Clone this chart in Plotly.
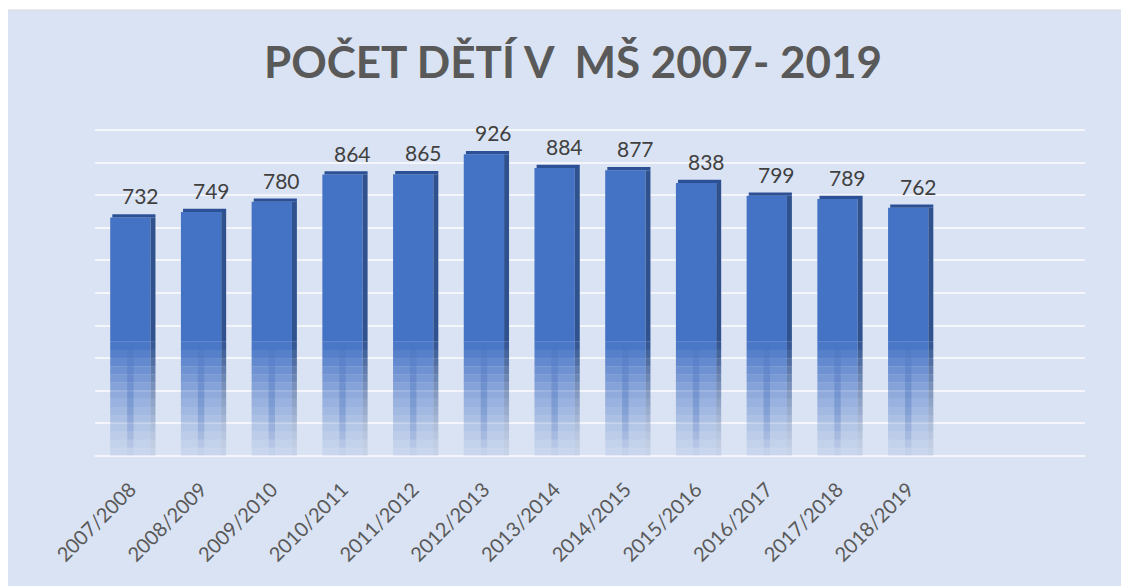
import plotly.graph_objects as go

# ---- data ----
categories = ["2007/2008", "2008/2009", "2009/2010", "2010/2011", "2011/2012", "2012/2013",
              "2013/2014", "2014/2015", "2015/2016", "2016/2017", "2017/2018", "2018/2019"]
values = [732, 749, 780, 864, 865, 926, 884, 877, 838, 799, 789, 762]
title_text = "POČET DĚTÍ V\u00a0 MŠ 2007- 2019"

# ---- style ----
FRONT = (68, 114, 196)
SIDE = (47, 82, 143)
TOP = (44, 80, 150)
STREAK = (52, 96, 180)
BG = "#dae3f3"
TXT = "#595959"
FADE_TOP = 350
N_SLICES = 14
Y_MIN, Y_MAX = -10, 1010

# page body has an 8px margin -> figure placed at (8, 8)
W, H = 1121, 578
L, R, T, B = 87, 44, 119, 127
PW, PH = W - L - R, H - T - B

fig = go.Figure()

def rgba(c, a):
    return f"rgba({c[0]},{c[1]},{c[2]},{a:.3f})"

step = FADE_TOP / N_SLICES
for face, color, offset, width in [("front", FRONT, -0.285, 0.57), ("side", SIDE, 0.285, 0.07)]:
    for k in range(N_SLICES):
        base_k = k * step
        t = (k + 0.5) / N_SLICES
        alpha = 0.10 + 0.90 * t ** 1.3
        fig.add_trace(go.Bar(
            x=categories,
            y=[max(0, min(step, v - base_k)) for v in values],
            base=[base_k] * len(values),
            marker=dict(color=rgba(color, alpha), line=dict(width=0)),
            offset=offset, width=width, hoverinfo="skip", showlegend=False,
        ))
        if face == "front":
            fig.add_trace(go.Bar(
                x=categories,
                y=[max(0, min(step, v - base_k)) for v in values],
                base=[base_k] * len(values),
                marker=dict(color=rgba(STREAK, 0.28 * 4 * t * (1 - t)), line=dict(width=0)),
                offset=-0.045, width=0.09, hoverinfo="skip", showlegend=False,
            ))
    fig.add_trace(go.Bar(
        x=categories,
        y=[v - FADE_TOP for v in values],
        base=[FADE_TOP] * len(values),
        marker=dict(color=rgba(color, 1), line=dict(width=0)),
        offset=offset, width=width, hoverinfo="skip", showlegend=False,
    ))

# top face
fig.add_trace(go.Bar(
    x=categories, y=[10] * len(values), base=values,
    marker=dict(color=rgba(TOP, 1), line=dict(width=0)),
    offset=-0.255, width=0.61, hoverinfo="skip", showlegend=False,
))

# value labels
for c, v in zip(categories, values):
    fig.add_annotation(x=c, y=v, text=str(v), showarrow=False, yanchor="bottom",
                       xshift=10, yshift=7, font=dict(family="Lato", size=21, color="#404040"))

# chart-area background with border
fig.add_shape(type="rect", xref="paper", yref="paper", layer="below",
              x0=(-1 - L) / PW, x1=(W + 2 - L) / PW,
              y0=-(B + 5) / PH, y1=(PH + T - 2) / PH,
              fillcolor=BG, line=dict(color="#d9d9d9", width=1))

fig.update_layout(
    width=W, height=H,
    margin=dict(l=L, r=R, t=T, b=B, autoexpand=False),
    paper_bgcolor="white", plot_bgcolor="rgba(0,0,0,0)",
    barmode="overlay",
    title=dict(text=f"<b>{title_text}</b>", x=565 / W, xanchor="center", y=1 - 55 / H,
               yanchor="middle", yref="container", automargin=False,
               font=dict(family="Lato", size=44, color=TXT)),
    xaxis=dict(type="category", range=[-0.5, 13.5], tickangle=-45, showgrid=False,
               showline=False, ticks="", ticklabelstandoff=14, automargin=False,
               tickfont=dict(family="Lato", size=20, color=TXT)),
    yaxis=dict(range=[Y_MIN, Y_MAX], tickvals=list(range(0, 1001, 100)), showticklabels=False,
               zeroline=False, automargin=False,
               showgrid=True, gridcolor="#f4f6fb", gridwidth=1.5, showline=False),
)

fig.write_html("out.html")
